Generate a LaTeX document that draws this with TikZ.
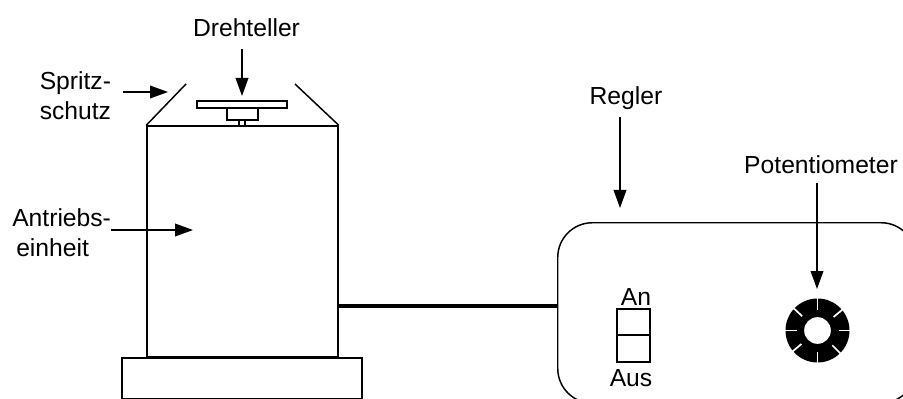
\documentclass[tikz,border=0pt]{standalone}
\usepackage{fontspec}
\setmainfont{Liberation Sans}
\usetikzlibrary{calc,arrows.meta,positioning}
\tikzset{
  lbl/.style={inner sep=0pt, font=\fontsize{18.5}{22.5}\selectfont},
  part/.style={rectangle, draw=black, fill=white, line width=1.1pt, inner sep=0pt},
  guard/.style={line width=1.1pt, black},
  pointer/.style={-{Stealth[length=13.5pt, width=9.5pt, inset=0pt]}, line width=1.1pt, black},
  cable/.style={line width=3pt, black},
  notch/.style={line width=1.3pt, white},
}
\begin{document}
\begin{tikzpicture}[x=0.75pt,y=-0.75pt]
  \useasboundingbox (0,0) rectangle (903,399);
  \clip (0,0) rectangle (903,399);
  % turntable drive
  \node[part, minimum width=143.25pt, minimum height=173.25pt] (body) at (242.5,241.5) {};
  \node[part, minimum width=180pt, minimum height=30.5pt] (base) at (242,378.5) {};
  \node[part, minimum width=67.5pt, minimum height=5.25pt] (plate) at (242,104.5) {};
  \node[part, minimum width=23.25pt, minimum height=9pt] (hub) at (242.5,114) {};
  \node[part, minimum width=4.5pt, minimum height=4.5pt] (shaft) at (242,123) {};
  \coordinate (guardL) at (186,84);
  \coordinate (guardR) at (295,84);
  \draw[guard] (body.north west) -- (guardL);
  \draw[guard] (body.north east) -- (guardR);
  % controller
  \node[part, rounded corners=26pt, minimum width=268.5pt, minimum height=135.3pt, anchor=north west] (panel) at (557,222) {};
  \node[part, minimum width=24.75pt, minimum height=19.5pt] (swOn) at (633.5,322) {};
  \node[part, minimum width=24.75pt, minimum height=20.25pt] (swOff) at (633.5,348.5) {};
  \node[circle, fill=black, minimum size=48pt, inner sep=0pt] (knob) at (817.5,330.5) {};
  \foreach \a in {90,45,0,-40,-90,-137,180,140} {
    \draw[notch] (knob.center) ++(\a:21) -- ++(\a:12);
  }
  \node[circle, fill=white, minimum size=20pt, inner sep=0pt] (knobhole) at (knob.center) {};
  \coordinate (cableY) at (0,306);
  \draw[cable] (body.east |- cableY) -- (panel.west |- cableY);
  % labels
  \node[lbl] (ldreh) at (246.5,28) {Drehteller};
  \node[lbl, align=left, anchor=north west] (lspritz) at (39.5,71) {Spritz-\\schutz};
  \node[lbl, align=left, anchor=north west] (lantrieb) at (12,208.5) {Antriebs-\\\hspace*{3pt}einheit};
  \node[lbl] (lregler) at (626,98) {Regler};
  \node[lbl] (lpoti) at (821,165) {Potentiometer};
  \node[lbl] (lan) at (636,297.5) {An};
  \node[lbl] (laus) at (631,378) {Aus};
  % pointers
  \coordinate (tipDreh) at (242,96);
  \coordinate (tipSpritz) at (168,92);
  \coordinate (tailSpritz) at (123,92);
  \coordinate (tipAntrieb) at (193,230);
  \coordinate (tailAntrieb) at (111,230);
  \coordinate (tipRegler) at (620,208);
  \coordinate (tipPoti) at (817,289);
  \draw[pointer] (tipDreh |- ldreh.south) ++(0,12) -- (tipDreh);
  \draw[pointer] (tailSpritz) -- (tipSpritz);
  \draw[pointer] (tailAntrieb) -- (tipAntrieb);
  \draw[pointer] (tipRegler |- lregler.south) ++(0,7) -- (tipRegler);
  \draw[pointer] (tipPoti |- lpoti.south) ++(0,9) -- (tipPoti);
\end{tikzpicture}
\end{document}
